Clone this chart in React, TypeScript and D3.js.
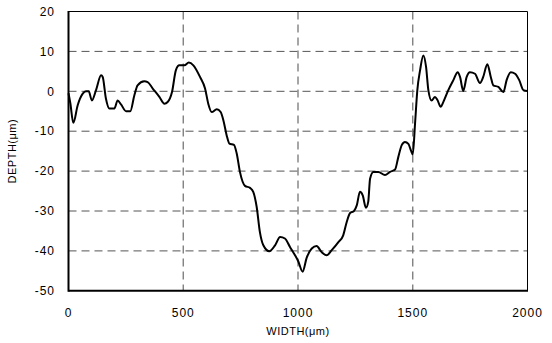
import React from "react";
import * as d3 from "d3";

const widthUm: number[] = [
  0, 8, 21, 40, 62, 76, 88, 102, 120, 142, 149, 163, 178, 200, 214, 229, 251, 269, 287, 301,
  330, 345, 367, 396, 418, 432, 451, 468, 483, 505, 524, 544, 573, 595, 609, 624, 646, 663, 675, 689,
  701, 721, 733, 747, 769, 791, 805, 820, 834, 849, 875, 900, 922, 943, 965, 987, 1001, 1020, 1038, 1060,
  1081, 1103, 1125, 1147, 1176, 1197, 1212, 1227, 1244, 1256, 1270, 1282, 1296, 1306, 1314, 1328, 1350, 1379, 1401, 1423,
  1437, 1452, 1466, 1481, 1492, 1500, 1510, 1520, 1532, 1546, 1558, 1568, 1582, 1597, 1607, 1622, 1633, 1655, 1677, 1696,
  1706, 1720, 1735, 1749, 1771, 1793, 1807, 1825, 1840, 1851, 1873, 1895, 1909, 1927, 1946, 1964, 1982, 2000,
];
const depthUm: number[] = [
  -0.5, -3, -7.9, -3.5, -0.6, 0, 0, -2.3, 0.3, 4, 3.6, -1.8, -4.3, -4.3, -2.3, -3.3, -5, -5, -1, 1.5,
  2.5, 2.3, 0.7, -1.4, -3.1, -2.7, -0.2, 5.3, 6.5, 6.5, 7.2, 6.5, 3.6, 0.7, -3.1, -5.2, -4.5, -5.2, -7.3, -11,
  -13.1, -13.4, -15.6, -20.2, -23.7, -24.2, -25.2, -29, -35.3, -38.6, -40.1, -38.6, -36.5, -36.9, -39, -41.1, -42.6, -45.2, -41.7, -39.4,
  -38.8, -40.3, -41.1, -39.8, -37.8, -36.1, -32.8, -30.5, -30, -28.6, -25.2, -26.1, -29.2, -27.7, -21.9, -20.2, -20.2, -21, -20.2, -19.6,
  -16.5, -13.5, -12.7, -13.2, -14.8, -15.8, -8.1, 0.3, 5.3, 9, 6.1, 0.3, -2.3, -1.4, -2.1, -3.9, -2.7, 0.3, 2.8, 4.8,
  3.6, 0.1, 3.6, 4.8, 4.4, 2.1, 3.6, 6.8, 3.6, 1.5, 1.1, -0.2, 2.8, 4.8, 4.4, 2.8, 0.3, 0.1,
];

const xTicks: number[] = [0, 500, 1000, 1500, 2000];
const yTicks: number[] = [20, 10, 0, -10, -20, -30, -40, -50];
const xGrid: number[] = [500, 1000, 1500];
const yGrid: number[] = [10, 0, -10, -20, -30, -40];
const xTitle = "WIDTH(\u03bcm)";
const yTitle = "DEPTH(\u03bcm)";

export default function App() {
  const W = 552, H = 343;
  const left = 68.5, right = 527.5, top = 11.5, bottom = 290.8;
  const x = d3.scaleLinear().domain([0, 2000]).range([left, right]);
  const y = d3.scaleLinear().domain([-50, 20]).range([bottom, top]);
  const pts: [number, number][] = widthUm.map((w, i) => [w, depthUm[i]]);
  const line = d3
    .line<[number, number]>()
    .x((d) => x(d[0]))
    .y((d) => y(d[1]))
    .curve(d3.curveMonotoneX);
  const font = "'Liberation Sans', Arial, sans-serif";
  return (
    <svg width={W} height={H} style={{ position: "absolute", left: 0, top: 0, background: "#fff" }}>
      <rect x={0} y={0} width={W} height={H} fill="#fff" />
      {yGrid.map((v) => (
        <line key={"hy" + v} x1={left} x2={right} y1={y(v)} y2={y(v)} stroke="#555" strokeWidth={1} strokeDasharray="8,5" />
      ))}
      {xGrid.map((v) => (
        <line key={"vx" + v} x1={x(v)} x2={x(v)} y1={top} y2={bottom} stroke="#777" strokeWidth={1.3} strokeDasharray="8,5" />
      ))}
      <path d={line(pts) || ""} fill="none" stroke="#000" strokeWidth={2} strokeLinejoin="round" />
      <line x1={left} x2={right} y1={top} y2={top} stroke="#000" strokeWidth={1} />
      <line x1={right} x2={right} y1={top} y2={bottom} stroke="#000" strokeWidth={1} />
      <line x1={left} x2={left} y1={top - 0.5} y2={bottom + 1} stroke="#000" strokeWidth={2} />
      <line x1={left} x2={right + 0.5} y1={bottom} y2={bottom} stroke="#000" strokeWidth={2} />
      {yTicks.map((v) => (
        <text key={"yt" + v} x={55} y={y(v)} dy="0.35em" textAnchor="end" fontFamily={font} fontSize={12} letterSpacing={1} fill="#000">
          {v}
        </text>
      ))}
      {xTicks.map((v) => (
        <text key={"xt" + v} x={x(v)} y={313} dy="0.35em" textAnchor="middle" fontFamily={font} fontSize={12} letterSpacing={1} fill="#000">
          {v}
        </text>
      ))}
      <text x={(left + right) / 2} y={331} dy="0.35em" textAnchor="middle" fontFamily={font} fontSize={11} letterSpacing={0.5} fill="#000">
        {xTitle}
      </text>
      <text
        transform={`translate(12, ${(top + bottom) / 2}) rotate(-90)`}
        dy="0.35em"
        textAnchor="middle"
        fontFamily={font}
        fontSize={11}
        letterSpacing={0.5}
        fill="#000"
      >
        {yTitle}
      </text>
    </svg>
  );
}
